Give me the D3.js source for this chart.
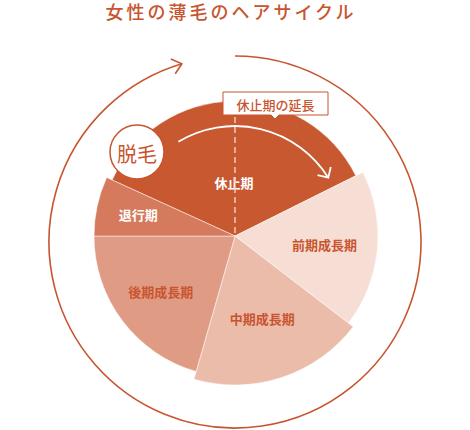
<!DOCTYPE html>
<html><head><meta charset="utf-8">
<script src="https://cdn.jsdelivr.net/npm/d3@7"></script>
<style>html,body{margin:0;padding:0;background:#fff;}svg{display:block;}</style>
</head><body>
<svg id="chart" width="470" height="430"></svg>
<script>
// ---- data ----
const title = "女性の薄毛のヘアサイクル";
const phases = ["休止期", "前期成長期", "中期成長期", "後期成長期", "退行期"];
const shares = [129, 64, 68.5, 74, 24.5]; // share of the cycle (degrees of the circle)
const calloutText = "休止期の延長";
const badgeText = "脱毛";

// ---- styles ----
const ORANGE = "#c8552f";
const fills = {"休止期":"#c85830","前期成長期":"#f6ded5","中期成長期":"#ecbcab","後期成長期":"#e09b84","退行期":"#d57a5c"};
const labelColor = {"休止期":"#fff","前期成長期":ORANGE,"中期成長期":ORANGE,"後期成長期":ORANGE,"退行期":"#fff"};
const outerR = {"休止期":135,"前期成長期":143,"中期成長期":149,"後期成長期":141,"退行期":141};
const labelR = {"休止期":54,"前期成長期":90,"中期成長期":87,"後期成長期":93,"退行期":99};
const FONT = "'Noto Sans CJK JP','Noto Sans CJK SC',sans-serif";
const deg = Math.PI / 180;

const svg = d3.select("#chart");
const cx = 235, cy = 236;

// title
svg.append("text").attr("x", 231).attr("y", 19)
  .attr("text-anchor", "middle").attr("font-family", FONT).attr("font-size", 18)
  .attr("font-weight", 500)
  .attr("letter-spacing", 3).attr("fill", ORANGE).text(title);

// outer cycle ring with arrow
const ringR = 186, ringCx = 235, ringCy = 242;
const ringEnd = 343.4 * deg;
const rp = d3.path();
rp.arc(ringCx, ringCy, ringR, -Math.PI / 2, -Math.PI / 2 + ringEnd, false);
svg.append("path").attr("d", rp.toString()).attr("fill", "none")
  .attr("stroke", ORANGE).attr("stroke-width", 1.6);
function arrowHead(g, x, y, dirAng, len, spread, color, w) {
  const back = dirAng + Math.PI;
  const p = d3.path();
  p.moveTo(x + len * Math.cos(back + spread), y + len * Math.sin(back + spread));
  p.lineTo(x, y);
  p.lineTo(x + len * Math.cos(back - spread), y + len * Math.sin(back - spread));
  g.append("path").attr("d", p.toString()).attr("fill", "none")
    .attr("stroke", color).attr("stroke-width", w).attr("stroke-linejoin", "miter");
}
{
  const a = -Math.PI / 2 + ringEnd;
  const tx = ringCx + ringR * Math.cos(a), ty = ringCy + ringR * Math.sin(a);
  arrowHead(svg, tx, ty, a + Math.PI / 2, 12, 40 * deg, ORANGE, 1.6);
}

// pie
const pie = d3.pie().sort(null).value(d => d.v)
  .startAngle(-65.5 * deg).endAngle(-65.5 * deg + 2 * Math.PI);
const arcs = pie(phases.map((p, i) => ({name: p, v: shares[i]})));
const g = svg.append("g").attr("transform", `translate(${cx},${cy})`);
g.selectAll("path.slice").data(arcs).join("path").attr("class", "slice")
  .attr("d", d => d3.arc().innerRadius(0).outerRadius(outerR[d.data.name])(d))
  .attr("fill", d => fills[d.data.name])
  .attr("stroke", "#fff").attr("stroke-width", 0.5);

// labels
g.selectAll("text.lbl").data(arcs).join("text").attr("class", "lbl")
  .attr("transform", d => {
    const r = labelR[d.data.name];
    const c = d3.arc().innerRadius(r).outerRadius(r).centroid(d);
    return `translate(${c[0]},${c[1]})`;
  })
  .attr("text-anchor", "middle").attr("dominant-baseline", "central")
  .attr("font-family", FONT).attr("font-size", 13).attr("font-weight", 700)
  .attr("fill", d => labelColor[d.data.name]).text(d => d.data.name);

// dashed line
svg.append("line").attr("x1", cx).attr("x2", cx).attr("y1", 117).attr("y2", cy)
  .attr("stroke", "#f3c9b9").attr("stroke-width", 1.5).attr("stroke-dasharray", "6,4");

// white arrow arc inside the rest phase
{
  const r = 110, a0 = -31 * deg, a1 = 58 * deg;
  const p = d3.path();
  p.arc(cx, cy, r, a0 - Math.PI / 2, a1 - Math.PI / 2, false);
  svg.append("path").attr("d", p.toString()).attr("fill", "none")
    .attr("stroke", "#fff").attr("stroke-width", 1.8);
  const a = a1 - Math.PI / 2;
  arrowHead(svg, cx + r * Math.cos(a), cy + r * Math.sin(a), a + Math.PI / 2, 11, 45 * deg, "#fff", 1.8);
}

// callout box
{
  const bx = 223, by = 92, bw = 105, bh = 23, tx = 275;
  const p = d3.path();
  p.moveTo(bx, by); p.lineTo(bx + bw, by); p.lineTo(bx + bw, by + bh);
  p.lineTo(tx + 4, by + bh); p.lineTo(tx, by + bh + 4); p.lineTo(tx - 4, by + bh);
  p.lineTo(bx, by + bh); p.closePath();
  svg.append("path").attr("d", p.toString()).attr("fill", "#fff")
    .attr("stroke", ORANGE).attr("stroke-width", 1);
  svg.append("text").attr("x", bx + bw / 2).attr("y", by + bh / 2 + 0.5)
    .attr("text-anchor", "middle").attr("dominant-baseline", "central")
    .attr("font-family", FONT).attr("font-size", 13).attr("font-weight", 500)
    .attr("fill", ORANGE).text(calloutText);
}

// badge
svg.append("circle").attr("cx", 137).attr("cy", 152).attr("r", 27)
  .attr("fill", "#fff").attr("stroke", ORANGE).attr("stroke-width", 1.5);
svg.append("text").attr("x", 137).attr("y", 153).attr("text-anchor", "middle")
  .attr("dominant-baseline", "central").attr("font-family", FONT).attr("font-size", 20)
  .attr("font-weight", 400).attr("fill", ORANGE).text(badgeText);
</script>
</body></html>
